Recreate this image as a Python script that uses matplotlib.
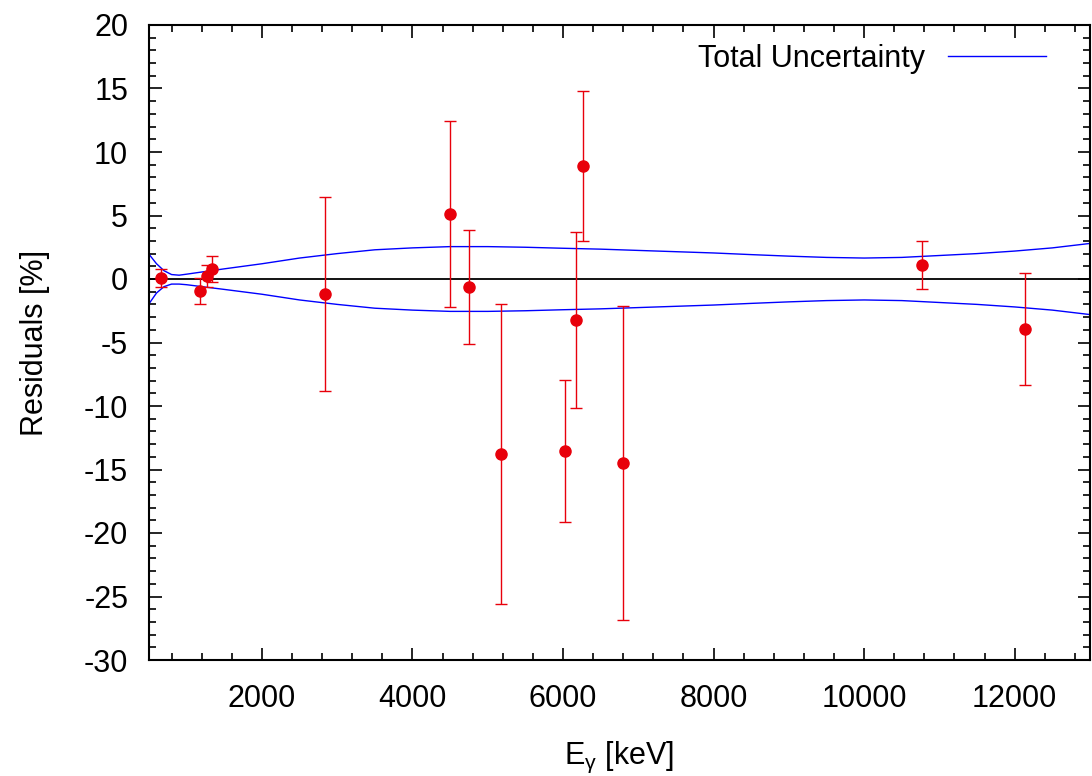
import matplotlib
matplotlib.use("Agg")
import matplotlib.pyplot as plt
import numpy as np
from matplotlib.ticker import MultipleLocator

plt.rcParams['font.family'] = ['Liberation Sans', 'DejaVu Sans']
plt.rcParams['axes.unicode_minus'] = False

# residual data points
energy = [662, 1173, 1274, 1332, 2838, 4500, 4750, 5175, 6025, 6171, 6264, 6795, 10766, 12133]
resid = [0.1, -0.94, 0.24, 0.79, -1.18, 5.12, -0.63, -13.78, -13.55, -3.23, 8.9, -14.5, 1.1, -3.94]
resid_err = [0.7, 1.0, 0.9, 1.0, 7.6, 7.3, 4.5, 11.8, 5.6, 6.9, 5.9, 12.35, 1.9, 4.4]

# total uncertainty band
band_e = [500, 600, 700, 800, 900, 1000, 1200, 1500, 2000, 2500, 3000, 3500, 4000, 4500,
          5000, 5500, 6000, 6500, 7000, 7500, 8000, 8500, 9000, 9500, 10000, 10500,
          11000, 11500, 12000, 12500, 13000]
band_up = [1.95, 1.2, 0.65, 0.35, 0.3, 0.38, 0.55, 0.8, 1.2, 1.65, 2.0, 2.3, 2.45, 2.55,
           2.55, 2.5, 2.42, 2.35, 2.25, 2.15, 2.05, 1.92, 1.8, 1.7, 1.65, 1.7,
           1.85, 2.0, 2.2, 2.45, 2.8]
band_lo = [-1.95, -1.1, -0.6, -0.4, -0.4, -0.45, -0.6, -0.82, -1.2, -1.65, -2.0, -2.3, -2.45, -2.55,
           -2.55, -2.5, -2.42, -2.35, -2.25, -2.15, -2.05, -1.92, -1.8, -1.7, -1.65, -1.7,
           -1.85, -2.0, -2.2, -2.45, -2.8]

fig = plt.figure(figsize=(10.92, 7.76), dpi=100)
ax = fig.add_axes([149/1092, 116/776, 941/1092, 635/776])

ax.axhline(0, color='black', lw=1.3, zorder=1)
ax.plot(band_e, band_up, color='#0000ff', lw=1.0, label='Total Uncertainty', zorder=2)
ax.plot(band_e, band_lo, color='#0000ff', lw=1.0, zorder=2)
ax.errorbar(energy, resid, yerr=resid_err, fmt='o', color='#e8000b', ecolor='#e8000b',
            ms=8, elinewidth=1.0, capsize=4, capthick=1.0, zorder=3)

ax.set_xlim(500, 13000)
ax.set_ylim(-30, 20)
ax.xaxis.set_major_locator(MultipleLocator(2000))
ax.xaxis.set_minor_locator(MultipleLocator(400))
ax.yaxis.set_major_locator(MultipleLocator(5))
ax.yaxis.set_minor_locator(MultipleLocator(1))
ax.tick_params(which='both', direction='in', top=True, right=True, labelsize=22, width=1.2)
ax.tick_params(which='major', length=9)
ax.tick_params(which='minor', length=5)
ax.tick_params(axis='x', which='major', pad=17)
ax.tick_params(axis='y', which='major', pad=15)
for s in ax.spines.values():
    s.set_linewidth(1.5)

ax.set_xlabel(r'E$_{\mathregular{γ}}$ [keV]', fontsize=22, labelpad=19)
ax.set_ylabel('Residuals [%]', fontsize=22, labelpad=24)

ax.legend(loc='upper right', frameon=False, fontsize=22, markerfirst=False,
          handlelength=3.2, handletextpad=0.75, borderaxespad=0.3,
          bbox_to_anchor=(0.976, 1.004))

fig.savefig('out.png', dpi=100)
